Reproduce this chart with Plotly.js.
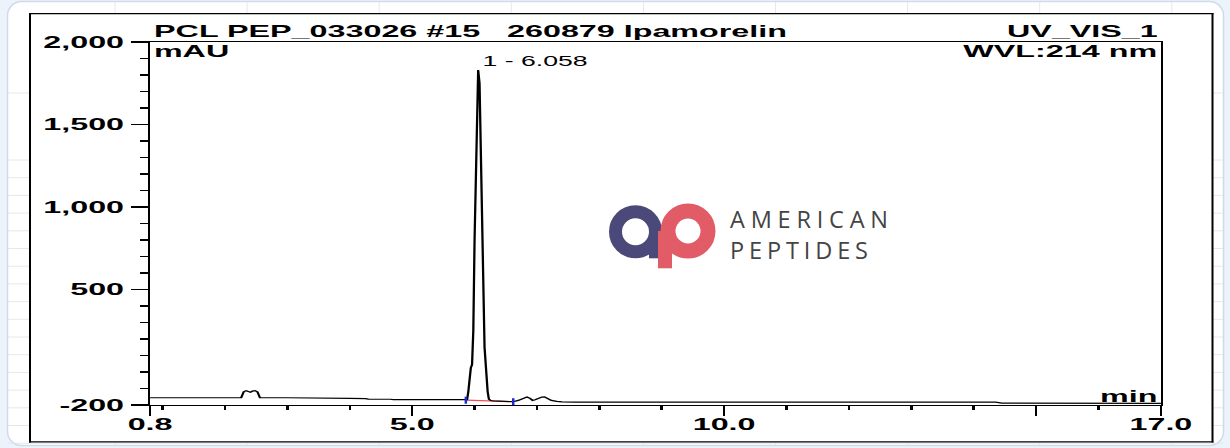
<!DOCTYPE html>
<html>
<head>
<meta charset="utf-8">
<script src="https://cdn.plot.ly/plotly-3.0.1.min.js"></script>
<style>
html,body{margin:0;padding:0;width:1230px;height:448px;overflow:hidden;background:#edf3fa;}
#wrap{position:relative;width:1230px;height:448px;}
#bg,#logo{position:absolute;left:0;top:0;}
#logo{pointer-events:none;}
#chart{position:absolute;left:0;top:0;height:448px;transform-origin:0 0;}
</style>
</head>
<body>
<div id="wrap">
<svg id="bg" width="1230" height="448" xmlns="http://www.w3.org/2000/svg"></svg>
<div id="chart"></div>
<svg id="logo" width="1230" height="448" xmlns="http://www.w3.org/2000/svg">
  <circle cx="635.5" cy="231.7" r="20" fill="none" stroke="#4b4979" stroke-width="13"/>
  <rect x="649" y="231.7" width="13" height="26.6" fill="#4b4979"/>
  <circle cx="688" cy="231" r="20" fill="none" stroke="#e25c68" stroke-width="15"/>
  <rect x="658" y="231" width="14" height="37.3" fill="#e25c68"/>
  <text x="730" y="227.5" font-family="'Open Sans', Lato, sans-serif" font-size="23.5" font-weight="500" fill="#444444" textLength="158" lengthAdjust="spacing">AMERICAN</text>
  <text x="730" y="259" font-family="'Open Sans', Lato, sans-serif" font-size="23.5" font-weight="500" fill="#444444" textLength="138" lengthAdjust="spacing">PEPTIDES</text>
</svg>
</div>
<script>
// ---- data ----
const time = [0.80, 1.20, 1.60, 1.66, 1.72, 1.78, 2.00, 2.26, 2.30, 2.34, 2.38, 2.41, 2.44, 2.48, 2.52, 2.56,
  3.00, 3.50, 3.95, 4.00, 4.25, 4.30, 4.65, 4.70, 5.00, 5.33, 5.38, 5.70, 5.85, 5.88, 5.90, 5.92, 5.94, 5.96,
  5.98, 6.00, 6.02, 6.04, 6.058, 6.08, 6.10, 6.12, 6.14, 6.16, 6.18, 6.19, 6.21, 6.23, 6.26, 6.30, 6.45, 6.62,
  6.70, 6.78, 6.84, 6.89, 6.93, 6.97, 7.03, 7.08, 7.12, 7.17, 7.23, 7.32, 7.40, 7.60, 9.00, 11.00, 13.00,
  14.35, 14.45, 15.50, 17.00];
const signal = [-156, -156, -156, -159, -160, -157, -156, -155, -120, -113, -116, -122, -116, -113, -120, -155,
  -156, -156, -157, -160, -161, -164, -165, -167, -167, -168, -171, -171, -171, -168, -120, 15, 25, 45,
  250, 800, 1350, 1720, 1830, 1750, 1450, 1000, 550, 150, -40, -60, -120, -165, -173, -175, -177, -180,
  -172, -160, -152, -160, -172, -168, -158, -152, -151, -160, -172, -178, -181, -183, -183, -183, -183,
  -183, -189, -189, -190];
const integTime = [5.86, 6.62];
const integSignal = [-171, -180];
const peakTime = 6.058;
const peakLabel = '1 - 6.058';
const peakLabelLevel = 1885;
const xTickVals = [0.8, 5, 10, 15, 17];
const xTickText = ['0.8', '5.0', '10.0', '', '17.0'];
const yTickVals = [-200, 500, 1000, 1500, 2000];
const yTickText = ['-200', '500', '1,000', '1,500', '2,000'];
const titleLeft = 'PCL PEP_033026 #15\u00a0\u00a0\u00a0260879 Ipamorelin';
const titleRight = 'UV_VIS_1';
const yUnit = 'mAU';
const wavelength = 'WVL:214 nm';
const xUnit = 'min';

// ---- background decoration ----
(function(){
  const ns = 'http://www.w3.org/2000/svg';
  const bg = document.getElementById('bg');
  function el(tag, attrs){const e=document.createElementNS(ns,tag);for(const k in attrs)e.setAttribute(k,attrs[k]);bg.appendChild(e);return e;}
  el('rect',{x:0,y:0,width:1230,height:448,fill:'#edf3fa'});
  el('rect',{x:7.5,y:1.5,width:1216,height:444,rx:14,fill:'#ffffff',stroke:'#cddbeb','stroke-width':1.5});
  for(let k=0;k<9;k++){const x=115+132.1*k; el('line',{x1:x,y1:2,x2:x,y2:445,stroke:'#e4e8ed','stroke-width':1});}
  const hy=[93]; for(let y=160;y<445;y+=17.7) hy.push(y);
  hy.forEach(y=>el('line',{x1:8,y1:y,x2:1223,y2:y,stroke:'#e4e8ed','stroke-width':1}));
  el('rect',{x:29,y:13,width:1184,height:429,fill:'#ffffff'});
  el('line',{x1:30,y1:13,x2:30,y2:442.5,stroke:'#000','stroke-width':2});
  el('line',{x1:1212.5,y1:13,x2:1212.5,y2:442.5,stroke:'#000','stroke-width':2});
  el('line',{x1:29,y1:13.6,x2:1213.5,y2:13.6,stroke:'#000','stroke-width':1.3});
  el('line',{x1:29,y1:441.8,x2:1213.5,y2:441.8,stroke:'#000','stroke-width':1.3});
})();

// ---- chart (drawn narrow, then stretched horizontally like the reference) ----
const S = 1.9;
const W = 1230 / S;
const chartDiv = document.getElementById('chart');
chartDiv.style.width = W + 'px';
chartDiv.style.transform = 'scaleX(' + S + ')';

const FONT = 'Liberation Sans, Arial, Helvetica, sans-serif';
const traces = [
  {x: integTime, y: integSignal, mode: 'lines', line: {color: '#ee4f55', width: 1.2}, hoverinfo: 'skip'},
  {x: time, y: signal, mode: 'lines', line: {color: '#000000', width: 1.2}, hoverinfo: 'skip'},
  {x: integTime, y: integSignal, mode: 'markers', marker: {symbol: 'line-ns-open', size: 5, color: '#1f2bd8', line: {color: '#1f2bd8', width: 1.3}}, hoverinfo: 'skip'}
];
const tickFont = {family: FONT, size: 17, weight: 'bold', color: '#000'};
const layout = {
  width: W, height: 448,
  margin: {l: 151 / S, r: (1230 - 1162) / S, t: 42, b: 43, pad: 0},
  paper_bgcolor: 'rgba(0,0,0,0)', plot_bgcolor: 'rgba(0,0,0,0)',
  showlegend: false,
  font: {family: FONT, color: '#000'},
  xaxis: {
    range: [0.8, 17], tickmode: 'array', tickvals: xTickVals, ticktext: xTickText,
    ticks: 'outside', ticklen: 10, tickwidth: 1.3, tickcolor: '#000', ticklabelstandoff: -7,
    showline: true, linecolor: '#000', linewidth: 1.3, mirror: true,
    showgrid: false, zeroline: false, tickfont: tickFont,
    minor: {dtick: 1, tick0: 0, ticks: 'outside', ticklen: 4, tickwidth: 1.3, tickcolor: '#000', showgrid: false}
  },
  yaxis: {
    range: [-200, 2000], tickmode: 'array', tickvals: yTickVals, ticktext: yTickText,
    ticks: 'outside', ticklen: 9, tickwidth: 1.3, tickcolor: '#000',
    showline: true, linecolor: '#000', linewidth: 1.3, mirror: true,
    showgrid: false, zeroline: false, tickfont: tickFont,
    minor: {dtick: 100, tick0: 0, ticks: 'outside', ticklen: 4, tickwidth: 1.3, tickcolor: '#000', showgrid: false}
  },
  annotations: [
    {text: titleLeft, xref: 'paper', yref: 'paper', x: 0, y: 1 + (42 - 31) / 363, xanchor: 'left', yanchor: 'middle', showarrow: false, font: tickFont},
    {text: titleRight, xref: 'paper', yref: 'paper', x: 1, y: 1 + (42 - 31) / 363, xanchor: 'right', yanchor: 'middle', showarrow: false, font: tickFont},
    {text: yUnit, xref: 'paper', yref: 'paper', x: 0, y: (405 - 52) / 363, xanchor: 'left', yanchor: 'middle', showarrow: false, font: tickFont},
    {text: wavelength, xref: 'paper', yref: 'paper', x: 1, y: (405 - 52) / 363, xanchor: 'right', yanchor: 'middle', showarrow: false, font: tickFont},
    {text: xUnit, xref: 'paper', yref: 'paper', x: 1, y: (405 - 396) / 363, xanchor: 'right', yanchor: 'middle', showarrow: false, font: tickFont},
    {text: peakLabel, xref: 'x', yref: 'y', x: peakTime, y: peakLabelLevel, xanchor: 'left', yanchor: 'middle', showarrow: false, font: {family: FONT, size: 14, color: '#000'}}
  ]
};
Plotly.newPlot(chartDiv, traces, layout, {staticPlot: true, displayModeBar: false});
</script>
</body>
</html>
